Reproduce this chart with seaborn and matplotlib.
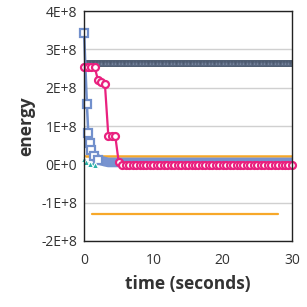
import pandas as pd
import seaborn as sns
import matplotlib.pyplot as plt
from matplotlib.ticker import FuncFormatter

# time grid shared by the long flat runs (seconds)
t_grid = [1, 1.5, 2, 2.5, 3, 3.5, 4, 4.5, 5, 5.5, 6, 6.5, 7, 7.5, 8, 8.5, 9, 9.5,
          10, 10.5, 11, 11.5, 12, 12.5, 13, 13.5, 14, 14.5, 15, 15.5, 16, 16.5,
          17, 17.5, 18, 18.5, 19, 19.5, 20, 20.5, 21, 21.5, 22, 22.5, 23, 23.5,
          24, 24.5, 25, 25.5, 26, 26.5, 27, 27.5, 28, 28.5, 29, 29.5, 30]

# gray series (triangles) - roughly flat
gray_t = [0.3, 0.6] + t_grid
gray_e = [2.64e8] * len(gray_t)

# blue series (squares): fast drop, then a flat run
blue_drop_t = [0, 0.4, 0.6, 0.8, 1.0, 1.4, 2.0]
blue_drop_e = [3.42e8, 1.57e8, 0.83e8, 0.55e8, 0.38e8, 0.22e8, 0.12e8]
blue_flat_t = [1.4, 2.0, 3.0] + t_grid[5:]
blue_flat_e = [0.22e8, 0.12e8, 0.07e8] + [0.05e8] * len(t_grid[5:])

# pink series (circles)
pink_t = [0, 0.5, 1.0, 1.5, 2.0, 2.5, 3.0, 3.5, 4.0, 4.5, 5.0, 5.5] + t_grid[10:]
pink_e = [2.55e8, 2.55e8, 2.55e8, 2.55e8, 2.2e8, 2.15e8, 2.1e8, 0.73e8, 0.73e8,
          0.73e8, 0.05e8, -0.02e8] + [-0.03e8] * len(t_grid[10:])

# orange series (two flat lines)
orange_t = [0, 30]
orange_e = [0.23e8, 0.23e8]
orange2_t = [1.2, 28]
orange2_e = [-1.3e8, -1.3e8]

# teal series
teal_t = [0, 0.3, 0.8, 1.5]
teal_e = [0.15e8, 0.05e8, 0.0, -0.01e8]

sns.set_style('white')
plt.rcParams['font.family'] = ['Open Sans', 'DejaVu Sans']

fig = plt.figure(figsize=(3.07, 3.07), dpi=100)
ax = fig.add_axes([0.274, 0.215, 0.677, 0.749])

ax.set_ylim(-2e8, 4e8)
ax.set_xlim(0, 30)
ax.set_yticks([-2e8, -1e8, 0, 1e8, 2e8, 3e8, 4e8])
ax.set_xticks([0, 10, 20, 30])
ax.yaxis.grid(True, color='#d0d0d0', lw=1)
ax.set_axisbelow(True)

sns.lineplot(x=orange_t, y=orange_e, ax=ax, color='#f7a829', lw=1.8)
sns.lineplot(x=orange2_t, y=orange2_e, ax=ax, color='#f7a829', lw=1.6)
sns.lineplot(x=gray_t, y=gray_e, ax=ax, color='#4d5b70', lw=5,
             marker='^', markersize=2.5, mfc='#8090a8', mec='#5a6880')
sns.lineplot(x=blue_flat_t, y=blue_flat_e, ax=ax, color='#7893d0', lw=7)
sns.lineplot(x=blue_drop_t, y=blue_drop_e, ax=ax, color='#7290cc', lw=1.8,
             marker='s', markersize=6, mfc='white', mec='#7290cc', mew=1.6,
             clip_on=False)
sns.lineplot(x=teal_t, y=teal_e, ax=ax, color='#27b0a8', lw=1.5,
             marker='^', markersize=4, clip_on=False)
sns.lineplot(x=pink_t, y=pink_e, ax=ax, color='#e9217f', lw=1.6,
             marker='o', markersize=5, mfc='white', mec='#e9217f', mew=1.6,
             clip_on=False)

fmt = FuncFormatter(lambda v, p: '0E+0' if v == 0 else f'{int(round(v / 1e8))}E+8')
ax.yaxis.set_major_formatter(fmt)
ax.tick_params(axis='both', length=0, labelsize=10, colors='#333333', pad=5)
ax.tick_params(axis='x', pad=9)

for s in ax.spines.values():
    s.set_color('#222222')
    s.set_linewidth(1)

ax.set_ylabel('energy', fontsize=12.5, fontweight='bold', color='#333333', labelpad=4)
ax.set_xlabel('time (seconds)', fontsize=12.5, fontweight='bold', color='#333333', labelpad=5)

fig.savefig('out.png', dpi=100)
